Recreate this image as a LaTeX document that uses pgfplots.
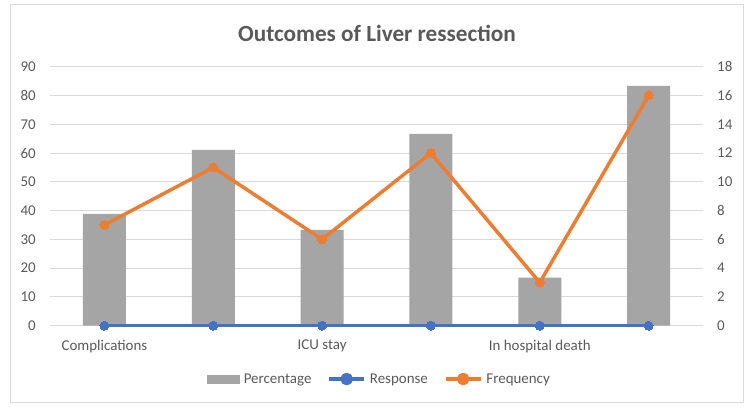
\documentclass[border=0pt]{standalone}
\usepackage{fontspec}
\setmainfont{Carlito}
\usepackage{pgfplots}
\pgfplotsset{compat=1.18}
\definecolor{barcol}{HTML}{A5A5A5}
\definecolor{bluecol}{HTML}{4472C4}
\definecolor{orangecol}{HTML}{ED7D31}
\definecolor{txtcol}{HTML}{595959}
\definecolor{gridcol}{HTML}{D9D9D9}
\begin{document}
\begin{tikzpicture}
\path[use as bounding box] (0,0) rectangle (746bp,409bp);
\draw[gridcol, line width=1bp] (10bp,6bp) rectangle (743bp,404bp);
\node[font=\fontsize{23.3}{28}\selectfont\bfseries, text=txtcol] at (377bp,376bp) {Outcomes of Liver ressection};
\begin{axis}[
  at={(50bp,83.3bp)}, anchor=south west,
  scale only axis, width=653bp, height=259bp,
  xmin=-0.5, xmax=5.5, ymin=0, ymax=90,
  clip=false,
  xtick={0,1,2,3,4,5},
  xticklabels={Complications,,ICU stay,,In hospital death,},
  ytick={0,10,...,90},
  /pgf/number format/assume math mode=true,
  major tick length=0pt,
  axis x line*=bottom, axis y line*=left,
  x axis line style={draw=gridcol, line width=1bp, -},
  y axis line style={draw=none},
  ymajorgrids, grid style={draw=gridcol, line width=1bp},
  ticklabel style={font=\fontsize{15}{18}\selectfont, text=txtcol},
  yticklabel style={anchor=east, inner sep=0pt, xshift=-14bp},
  xticklabel style={anchor=north, inner sep=0pt, yshift=-14bp},
]
\addplot[ybar, bar width=43bp, fill=barcol, draw=none] coordinates {(0,38.9) (1,61.1) (2,33.3) (3,66.7) (4,16.7) (5,83.3)};
\end{axis}
\begin{axis}[
  at={(50bp,83.3bp)}, anchor=south west,
  scale only axis, width=653bp, height=259bp,
  xmin=-0.5, xmax=5.5, ymin=0, ymax=18,
  clip=false,
  ytick={0,2,...,18},
  /pgf/number format/assume math mode=true,
  major tick length=0pt,
  axis x line=none, axis y line*=right,
  y axis line style={draw=none},
  ticklabel style={font=\fontsize{15}{18}\selectfont, text=txtcol},
  yticklabel style={anchor=west, inner sep=0pt, xshift=14bp},
  legend columns=3,
  legend style={at={(0.504,-0.206)}, anchor=center, draw=none, fill=none,
    font=\fontsize{15}{18}\selectfont, text=txtcol,
    nodes={inner sep=1bp},
    /tikz/every odd column/.append style={column sep=3bp},
    /tikz/every even column/.append style={column sep=15bp}},
  legend cell align=left,
]
\addlegendimage{legend image code/.code={\fill[barcol] (0bp,-4bp) rectangle (32bp,4bp);}}
\addlegendentry{Percentage}
\addplot[bluecol, line width=3.5bp, line join=round, mark=*, mark size=4.5bp, mark options={solid, fill=bluecol, draw=bluecol, line width=0pt},
  legend image code/.code={\draw[bluecol, line width=3.5bp] (0bp,0bp) -- (35bp,0bp); \fill[bluecol] (17.5bp,0bp) circle (4.5bp);}]
  coordinates {(0,0) (1,0) (2,0) (3,0) (4,0) (5,0)};
\addlegendentry{Response}
\addplot[orangecol, line width=3.5bp, line join=round, mark=*, mark size=4.5bp, mark options={solid, fill=orangecol, draw=orangecol, line width=0pt},
  legend image code/.code={\draw[orangecol, line width=3.5bp] (0bp,0bp) -- (35bp,0bp); \fill[orangecol] (17.5bp,0bp) circle (4.5bp);}]
  coordinates {(0,7) (1,11) (2,6) (3,12) (4,3) (5,16)};
\addlegendentry{Frequency}
\end{axis}
\end{tikzpicture}
\end{document}
